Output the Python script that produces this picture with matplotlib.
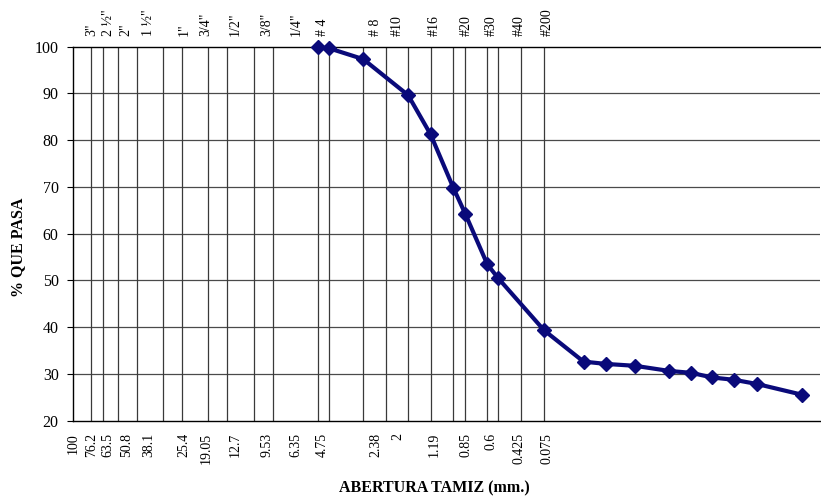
import numpy as np
import matplotlib
matplotlib.use("Agg")
import matplotlib.pyplot as plt
import matplotlib.transforms as mtransforms

# sieve sizes (mm) and names printed along the top and bottom
size_labels = ["100", "76.2", "63.5", "50.8", "38.1", "25.4", "19.05", "12.7", "9.53",
               "6.35", "4.75", "2.38", "2", "1.19", "0.85", "0.6", "0.425", "0.075"]
sieve_names = ["", '3"', '2 ½"', '2"', '1 ½"', '1"', '3/4"', '1/2"', '3/8"', '1/4"',
               "# 4", "# 8", "#10", "#16", "#20", "#30", "#40", "#200"]
# where each label sits on the size axis
label_at = [100, 80, 65, 52, 39.5, 25.5, 19.5, 13.6, 9.2, 6.4, 4.65, 2.4, 1.83,
            1.17, 0.79, 0.58, 0.41, 0.29]

# vertical reference lines on the size axis (mm)
grid_sizes = [80.4, 69.1, 57.4, 45.4, 32.9, 26.3, 18.9, 15.0, 10.8, 8.56, 4.87, 4.25,
              2.80, 2.12, 1.61, 1.22, 0.922, 0.795, 0.61, 0.529, 0.398, 0.301]

# grain size curve
diam = [4.87, 4.25, 2.80, 1.61, 1.22, 0.922, 0.795, 0.606, 0.529, 0.301,
        0.185, 0.140, 0.098, 0.0642, 0.0491, 0.0378, 0.0288, 0.0217, 0.01245]
passing = [99.8, 99.6, 97.3, 89.6, 81.2, 69.8, 64.2, 53.4, 50.4, 39.3,
           32.6, 32.1, 31.7, 30.6, 30.2, 29.2, 28.7, 27.8, 25.5]

plt.rcParams["font.family"] = ["Liberation Serif", "DejaVu Serif"]

fig = plt.figure(figsize=(8.21, 4.99), dpi=100)
ax = fig.add_axes([0.0893, 0.1573, 0.9096, 0.7495])

ax.set_xscale("log")
ax.set_xlim(100, 0.01)
ax.set_ylim(20, 100)
ax.set_yticks(np.arange(20, 101, 10))
ax.tick_params(axis="y", direction="out", length=4.5, width=0.8, labelsize=11.5, pad=6)
ax.tick_params(axis="x", which="both", length=0, labelbottom=False)
ax.xaxis.set_minor_locator(matplotlib.ticker.NullLocator())
ax.xaxis.set_major_locator(matplotlib.ticker.NullLocator())

for y in range(30, 100, 10):
    ax.axhline(y, color="#4a4a4a", lw=0.9, zorder=1)
for x in grid_sizes:
    ax.axvline(x, color="#3a3a3a", lw=0.9, zorder=1)

for s in ["left", "bottom", "top"]:
    ax.spines[s].set_linewidth(1.0)
    ax.spines[s].set_color("black")
ax.spines["right"].set_visible(False)

ax.plot(diam, passing, color="#0a0a7a", lw=3.0, marker="D", markersize=7.5,
        zorder=3, clip_on=False)

trans = mtransforms.blended_transform_factory(ax.transData, ax.transAxes)
for x, lab in zip(label_at, size_labels):
    ax.text(x, -0.033, lab, transform=trans, rotation=90, ha="center", va="top",
            fontsize=10)
for x, lab in zip(label_at, sieve_names):
    if lab:
        ax.text(x, 1.027, lab, transform=trans, rotation=90, ha="center",
                va="bottom", fontsize=10)

fig.text(0.022, 0.505, "% QUE PASA", rotation=90, ha="center", va="center",
         fontsize=11.5, fontweight="bold")
fig.text(0.529, 0.022, "ABERTURA TAMIZ (mm.)", ha="center", va="center",
         fontsize=11.5, fontweight="bold")

fig.savefig("out.png", dpi=100)
